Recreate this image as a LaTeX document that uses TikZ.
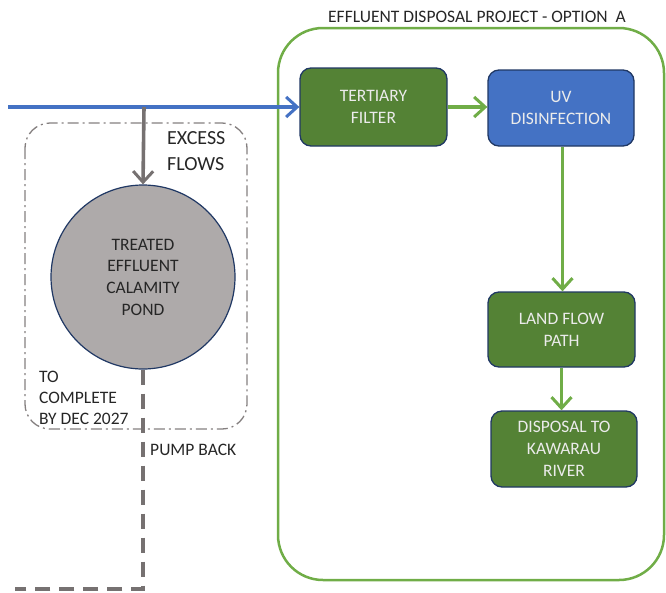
\documentclass[tikz,border=0pt]{standalone}
\usepackage{fontspec}
\setmainfont{Carlito}
\usepackage{tikz}
\usetikzlibrary{arrows.meta}
\definecolor{boxgreen}{HTML}{548235}
\definecolor{boxblue}{HTML}{4472C4}
\definecolor{lineblue}{HTML}{4472C4}
\definecolor{linegreen}{HTML}{70AD47}
\definecolor{navy}{HTML}{203864}
\definecolor{pondgrey}{HTML}{AEAAAA}
\definecolor{pipegrey}{HTML}{767171}
\definecolor{textgrey}{HTML}{262626}
\tikzset{
  procbox/.style={rectangle,rounded corners=11pt,draw=navy,line width=1.3pt,
    text=white!92!black,align=center,inner sep=0pt,
    font=\fontsize{17.5}{21.7}\selectfont},
  flow/.style={line width=3.4pt,-{Straight Barb[length=11pt,width=20pt,line width=3pt]}},
  lbl/.style={text=textgrey,align=left,inner sep=0pt,font=\fontsize{17.5}{21}\selectfont}
}
\begin{document}
\begin{tikzpicture}[x=1pt,y=-1pt]
              \useasboundingbox (0,0) rectangle (666,592);
              % option A boundary
              \draw[linegreen,line width=2.5pt,rounded corners=45pt](278,28)rectangle(664,580);
              \node[lbl,anchor=center](title)at(477,17){EFFLUENT DISPOSAL PROJECT - OPTION\ \ A};
              % calamity pond area
              \draw[pipegrey!90,line width=1.3pt,rounded corners=25pt,dash pattern=on 11pt off 4pt on 2pt off 4pt](25,123)rectangle(247,429);
              \node[procbox,fill=boxgreen,minimum width=147pt,minimum height=78pt](tert)at(373.5,107){TERTIARY\\FILTER};
              \node[procbox,fill=boxblue,minimum width=146pt,minimum height=76pt](uv)at(561,108){UV\\DISINFECTION};
              \node[procbox,fill=boxgreen,minimum width=147pt,minimum height=75pt](land)at(561.5,329.5){LAND FLOW\\PATH};
              \node[procbox,fill=boxgreen,minimum width=146pt,minimum height=76pt](disp)at(564,449){DISPOSAL TO\\KAWARAU\\RIVER};
              \node[circle,draw=navy,line width=1.2pt,fill=pondgrey,minimum size=184pt,inner sep=0pt,
                    align=center,text=textgrey,font=\fontsize{17.5}{21.7}\selectfont](pond)at(143,277){TREATED\\EFFLUENT\\CALAMITY\\POND};
              \node[lbl,anchor=west,font=\fontsize{20}{26}\selectfont](excess)at(167,151){EXCESS\\FLOWS};
              \node[lbl,anchor=west](complete)at(39,398){TO\\COMPLETE\\BY DEC 2027};
              \node[lbl,anchor=west](pump)at(150,450){PUMP BACK};
              % inflow
              \coordinate(inlet)at(8,107);
              \coordinate(tee)at(144,107);
              \draw[flow,lineblue](inlet)--(tert.west);
              \draw[flow,pipegrey,line width=3.6pt](tee)--(pond.north);
              \draw[flow,linegreen](tert.east)--(uv.west|-tert.east);
              \draw[flow,linegreen]([xshift=1.5pt]uv.south)--([xshift=1.5pt]uv.south|-land.north);
              \draw[flow,linegreen](land.south)--(land.south|-disp.north);
              % pump back
              \coordinate(pb1)at(143,589);
              \coordinate(pb2)at(15,589);
              \draw[pipegrey,line width=4.5pt,dash pattern=on 15pt off 9pt](pond.south)--(pb1)--(pb2);
            \end{tikzpicture}
\end{document}
